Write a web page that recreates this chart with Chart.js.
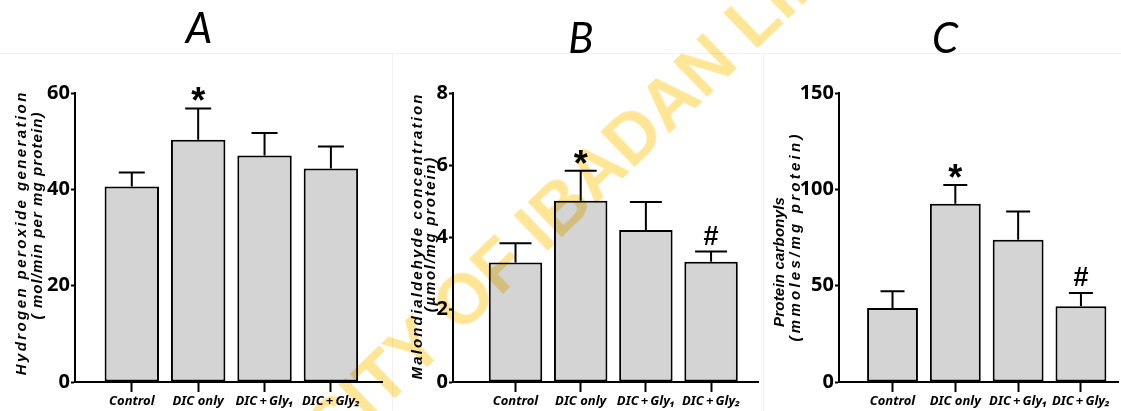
<!DOCTYPE html>
<html>
<head>
<meta charset="utf-8">
<title>Oxidative stress markers</title>
<script src="https://cdn.jsdelivr.net/npm/chart.js@4.4.1/dist/chart.umd.min.js"></script>
<style>
  html, body { margin: 0; padding: 0; background: #fff; }
  #page { position: relative; width: 1121px; height: 411px; overflow: hidden; }
  .cell { position: absolute; top: 0; height: 411px; }
  #cellA { left: 0; width: 392px; }
  #cellB { left: 392px; width: 371px; }
  #cellC { left: 763px; width: 358px; }
  .hline { position: absolute; left: 0; top: 53px; width: 1121px; height: 1px; background: #f1f1f1; }
  .vline { position: absolute; top: 53px; width: 1px; height: 358px; background: #f1f1f1; }
  #wm {
    position: absolute; left: 544px; top: 221px;
    transform: translate(-50%, -50%) rotate(-44deg);
    font: bold 70px 'Liberation Sans', Arial, sans-serif; line-height: 1;
    color: #ffe596; mix-blend-mode: multiply; white-space: nowrap; pointer-events: none;
  }
</style>
</head>
<body>
<div id="page">
  <div class="hline"></div>
  <div class="vline" style="left:392px"></div>
  <div class="vline" style="left:763px"></div>
  <div class="cell" id="cellA"><canvas id="chartA"></canvas></div>
  <div class="cell" id="cellB"><canvas id="chartB"></canvas></div>
  <div class="cell" id="cellC"><canvas id="chartC"></canvas></div>
  <div id="wm">UNIVERSITY OF IBADAN LIBRARY</div>
</div>

<script>
// ── Data ─────────────────────────────────────────────────────
const groups = ["Control", "DIC only", "DIC\u2009+\u2009Gly\u2081", "DIC\u2009+\u2009Gly\u2082"];

const h2o2Mean = [40.6, 50.3, 47.0, 44.3];
const h2o2Sem = [2.9, 6.5, 4.7, 4.6];
const h2o2Marks = ["", "*", "", ""];
const h2o2Ticks = [0, 20, 40, 60];

const mdaMean = [3.31, 5.02, 4.21, 3.33];
const mdaSem = [0.53, 0.83, 0.77, 0.28];
const mdaMarks = ["", "*", "", "#"];
const mdaTicks = [0, 2, 4, 6, 8];

const carbonylMean = [38.4, 92.5, 73.8, 39.3];
const carbonylSem = [8.7, 9.8, 14.7, 6.9];
const carbonylMarks = ["", "*", "", "#"];
const carbonylTicks = [0, 50, 100, 150];

// ── Fonts ────────────────────────────────────────────────────
// "extra-condensed" rides along in the weight slot so it lands in the font shorthand
const NARROW = "'Noto Sans', 'Liberation Sans', Arial, sans-serif";
const SANS = "'Liberation Sans', Arial, sans-serif";

/* ── Extras: error bars, significance marks, panel letter, axis title ── */
function extras(cfg) {
  return {
    id: "extras",
    afterDatasetsDraw(chart) {
      const ctx = chart.ctx;
      const y = chart.scales.y;
      const bars = chart.getDatasetMeta(0).data;
      ctx.save();
      ctx.strokeStyle = "#000";
      ctx.fillStyle = "#000";
      ctx.lineWidth = 2;

      bars.forEach((bar, i) => {
        const top = y.getPixelForValue(cfg.means[i] + cfg.sem[i]);
        ctx.beginPath();
        ctx.moveTo(bar.x, bar.y);
        ctx.lineTo(bar.x, top);
        ctx.moveTo(bar.x - cfg.cap, top);
        ctx.lineTo(bar.x + cfg.cap, top);
        ctx.stroke();

        const mark = cfg.marks[i];
        if (mark) {
          ctx.font = mark === "*" ? `bold 36px ${SANS}` : `bold 27px ${SANS}`;
          ctx.textAlign = "center";
          ctx.textBaseline = "alphabetic";
          const m = ctx.measureText(mark);
          ctx.fillText(mark, bar.x, top - 7 - m.actualBoundingBoxDescent);
        }
      });

      // panel letter
      ctx.font = "italic 42px Lato, 'Noto Sans', sans-serif";
      ctx.textAlign = "center";
      ctx.textBaseline = "middle";
      ctx.fillText(cfg.letter.text, cfg.letter.x, cfg.letter.y);

      // y axis title, two lines, stretched to their length in the figure
      ctx.font = `italic bold 15px ${SANS}`;
      cfg.title.forEach(line => {
        ctx.letterSpacing = "0px";
        const w = ctx.measureText(line.text).width;
        const sp = Math.max(-0.6, (line.len - w) / line.text.length);
        ctx.letterSpacing = sp + "px";
        ctx.save();
        ctx.translate(line.x, line.y);
        ctx.rotate(-Math.PI / 2);
        ctx.fillText(line.text, sp / 2, 0);
        ctx.restore();
      });
      ctx.letterSpacing = "0px";
      ctx.restore();
    }
  };
}

function buildPanel(id, cfg) {
  return new Chart(document.getElementById(id), {
    type: "bar",
    data: {
      datasets: [{
        data: cfg.means.map((v, i) => ({ x: i + 1, y: v })),
        backgroundColor: "#d4d4d4",
        borderColor: "#000",
        borderWidth: 2,
        borderSkipped: false,
        categoryPercentage: 1,
        barPercentage: cfg.barPct
      }]
    },
    options: {
      responsive: true,
      maintainAspectRatio: false,
      animation: false,
      layout: { padding: { top: 93, right: cfg.padRight, left: 0, bottom: 0 } },
      plugins: { legend: { display: false }, tooltip: { enabled: false }, title: { display: false } },
      scales: {
        x: {
          type: "linear",
          min: cfg.xMin,
          max: cfg.xMax,
          offset: false,
          afterBuildTicks: s => { s.ticks = groups.map((g, i) => ({ value: i + 1 })); },
          afterFit: s => { s.height = 29; },
          ticks: {
            callback: v => groups[v - 1],
            autoSkip: false, maxRotation: 0, padding: 1,
            color: "#000",
            font: { family: NARROW, size: 13, style: "italic", weight: "bold extra-condensed" }
          },
          grid: { offset: false, drawOnChartArea: false, tickLength: 10, tickWidth: 2, tickColor: "#000" },
          border: { color: "#000", width: 2 }
        },
        y: {
          min: 0,
          max: cfg.ticks[cfg.ticks.length - 1],
          afterBuildTicks: s => { s.ticks = cfg.ticks.map(v => ({ value: v })); },
          afterFit: s => { s.width = cfg.yWidth; },
          ticks: {
            padding: 1,
            color: "#000",
            font: { family: NARROW, size: 20, weight: "bold extra-condensed" }
          },
          grid: { drawOnChartArea: false, tickLength: 4, tickWidth: 2, tickColor: "#000" },
          border: { color: "#000", width: 2 }
        }
      }
    },
    plugins: [extras(cfg)]
  });
}

buildPanel("chartA", {
  means: h2o2Mean, sem: h2o2Sem, marks: h2o2Marks, ticks: h2o2Ticks,
  xMin: 0.144, xMax: 4.77, barPct: 0.82, cap: 13, yWidth: 75, padRight: 10,
  letter: { text: "A", x: 199, y: 29 },
  title: [
    { text: "Hydrogen peroxide generation", x: 22, y: 234, len: 285 },
    { text: "( mol/min per mg protein)", x: 38, y: 216, len: 208 }
  ]
});

buildPanel("chartB", {
  means: mdaMean, sem: mdaSem, marks: mdaMarks, ticks: mdaTicks,
  xMin: 0.041, xMax: 4.72, barPct: 0.82, cap: 16, yWidth: 61, padRight: 5,
  letter: { text: "B", x: 189, y: 39 },
  title: [
    { text: "Malondialdehyde concentration", x: 26, y: 237, len: 287 },
    { text: "(\u00b5mol/mg protein)", x: 39, y: 235, len: 156 }
  ]
});

buildPanel("chartC", {
  means: carbonylMean, sem: carbonylSem, marks: carbonylMarks, ticks: carbonylTicks,
  xMin: 0.148, xMax: 4.59, barPct: 0.81, cap: 12, yWidth: 76, padRight: 3,
  letter: { text: "C", x: 182, y: 39 },
  title: [
    { text: "Protein carbonyls", x: 17, y: 262, len: 130 },
    { text: "(mmoles/mg protein)", x: 33, y: 238, len: 210 }
  ]
});
</script>
</body>
</html>
